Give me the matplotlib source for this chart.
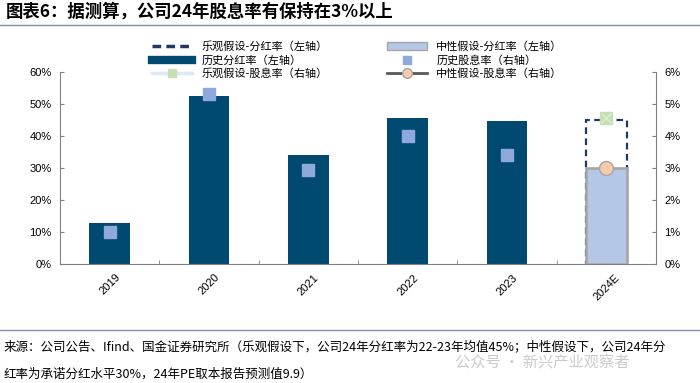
import matplotlib
matplotlib.use("Agg")
import matplotlib.pyplot as plt
from matplotlib.lines import Line2D
from matplotlib.patches import Patch
import numpy as np

plt.rcParams['font.family'] = ['Liberation Sans', 'Noto Sans CJK SC', 'DejaVu Sans']

categories = ['2019', '2020', '2021', '2022', '2023', '2024E']
hist_payout = [12.8, 52.5, 34.0, 45.6, 44.7]          # % left axis
hist_yield = [1.0, 5.3, 2.95, 4.0, 3.4]               # % right axis
opt_payout = 45.0
neu_payout = 30.0
opt_yield = 4.55
neu_yield = 3.0

left_ticks = [0, 10, 20, 30, 40, 50, 60]
right_ticks = [0, 1, 2, 3, 4, 5, 6]

navy = '#004A72'
light_bar = '#B4C7E7'
sq_col = '#8EA9DB'
dash_col = '#1F3864'

fig = plt.figure(figsize=(7, 3.83), dpi=100)
ax = fig.add_axes([60/700, 1-264/383, 596/700, 192/383])
ax2 = ax.twinx()

x = np.arange(len(categories))
w = 0.41
ax.bar(x[:5], hist_payout, width=w, color=navy, zorder=2)
ax.bar(x[5], opt_payout, width=w, facecolor='none', edgecolor=dash_col,
       linestyle=(0, (3, 2)), linewidth=1.6, zorder=2)
ax.bar(x[5], neu_payout, width=w, facecolor=light_bar, edgecolor='#A6A6A6',
       linewidth=1.9, zorder=3)

ax2.plot(x[:5], hist_yield, linestyle='none', marker='s', markersize=8,
         color=sq_col, zorder=4)
ax2.plot([x[5]], [opt_yield], linestyle='none', marker='s', markersize=9,
         markerfacecolor='#C6E0B4', markeredgecolor='#C6E0B4', zorder=4)
ax2.plot([x[5]], [opt_yield], linestyle='none', marker='x', markersize=7,
         color='#E2EFDA', markeredgewidth=0.8, zorder=5)
ax2.plot([x[5]], [neu_yield], linestyle='none', marker='o', markersize=10,
         markerfacecolor='#F8CBAD', markeredgecolor='#A6A6A6', zorder=5)

ax.set_xlim(-0.5, len(categories) - 0.5)
ax.set_ylim(0, 60)
ax2.set_ylim(0, 6)
ax.set_yticks(left_ticks)
ax.set_yticklabels([f'{v}%' for v in left_ticks], fontsize=8)
ax2.set_yticks(right_ticks)
ax2.set_yticklabels([f'{v}%' for v in right_ticks], fontsize=8)
ax.set_xticks(x)
ax.set_xticklabels(categories, rotation=45, fontsize=8, ha='center', va='top')
ax.set_xticks(np.arange(-0.5, len(categories)), minor=True)
ax.tick_params(axis='x', which='major', length=0, pad=6)
ax.tick_params(axis='x', which='minor', length=3, color='#808080', direction='in')
ax.tick_params(axis='y', length=3, color='#808080', direction='in', pad=6)
ax2.tick_params(axis='y', length=3, color='#808080', direction='in', pad=6)

for a in (ax, ax2):
    a.spines['top'].set_visible(False)
for s in ['left', 'bottom']:
    ax.spines[s].set_color('#808080')
ax2.spines['right'].set_color('#808080')
ax2.spines['left'].set_visible(False)
ax2.spines['bottom'].set_visible(False)
ax.spines['right'].set_visible(False)

# legend
handles_c1 = [
    Line2D([], [], color=dash_col, linestyle=(0, (2.5, 1.5)), linewidth=2.5),
    Line2D([], [], color=navy, linewidth=6),
    Line2D([], [], color='#DEEBF7', linewidth=2.5, marker='s', markersize=6,
           markerfacecolor='#C6E0B4', markeredgecolor='#C6E0B4'),
]
labels_c1 = ['乐观假设-分红率（左轴）', '历史分红率（左轴）', '乐观假设-股息率（右轴）']
handles_c2 = [
    Patch(facecolor=light_bar, edgecolor='#A6A6A6'),
    Line2D([], [], linestyle='none', marker='s', markersize=6, color=sq_col),
    Line2D([], [], color='#595959', linewidth=2, marker='o', markersize=7,
           markerfacecolor='#F8CBAD', markeredgecolor='#A6A6A6'),
]
labels_c2 = ['中性假设-分红率（左轴）', '历史股息率（右轴）', '中性假设-股息率（右轴）']
lp = dict(frameon=False, handlelength=3.6, labelspacing=0.25,
          handletextpad=0.8, borderaxespad=0, prop={'family': ['Noto Sans CJK SC'], 'size': 8})
leg1 = fig.legend(handles_c1, labels_c1, loc='upper left',
                  bbox_to_anchor=(148/700, 1-37/383), **lp)
leg2 = fig.legend(handles_c2, labels_c2, loc='upper left',
                  bbox_to_anchor=(383/700, 1-37/383), **lp)

# title & footer
fig.text(6/700, 1-12/383, '图表6：据测算，公司24年股息率有保持在3%以上',
         fontsize=12.5, fontweight='bold', style='italic', va='center',
         family=['Noto Sans CJK SC'])
fig.add_artist(Line2D([0, 1], [1-25/383, 1-25/383], color='#7F8FA6', linewidth=1))
fig.add_artist(Line2D([0, 1], [1-330/383, 1-330/383], color='#7F8FA6', linewidth=1))
fig.text(4/700, 1-347/383,
         '来源：公司公告、Ifind、国金证券研究所（乐观假设下，公司24年分红率为22-23年均值45%；中性假设下，公司24年分',
         fontsize=9, va='center', family=['Noto Sans CJK SC'])
fig.text(4/700, 1-374/383,
         '红率为承诺分红水平30%，24年PE取本报告预测值9.9）',
         fontsize=9, va='center', family=['Noto Sans CJK SC'])
fig.text(455/700, 1-362/383, '公众号 · 新兴产业观察者', fontsize=11, color='#BFBFBF',
         alpha=0.8, va='center', family=['Noto Sans CJK SC'])

fig.savefig('out.png', dpi=100)
